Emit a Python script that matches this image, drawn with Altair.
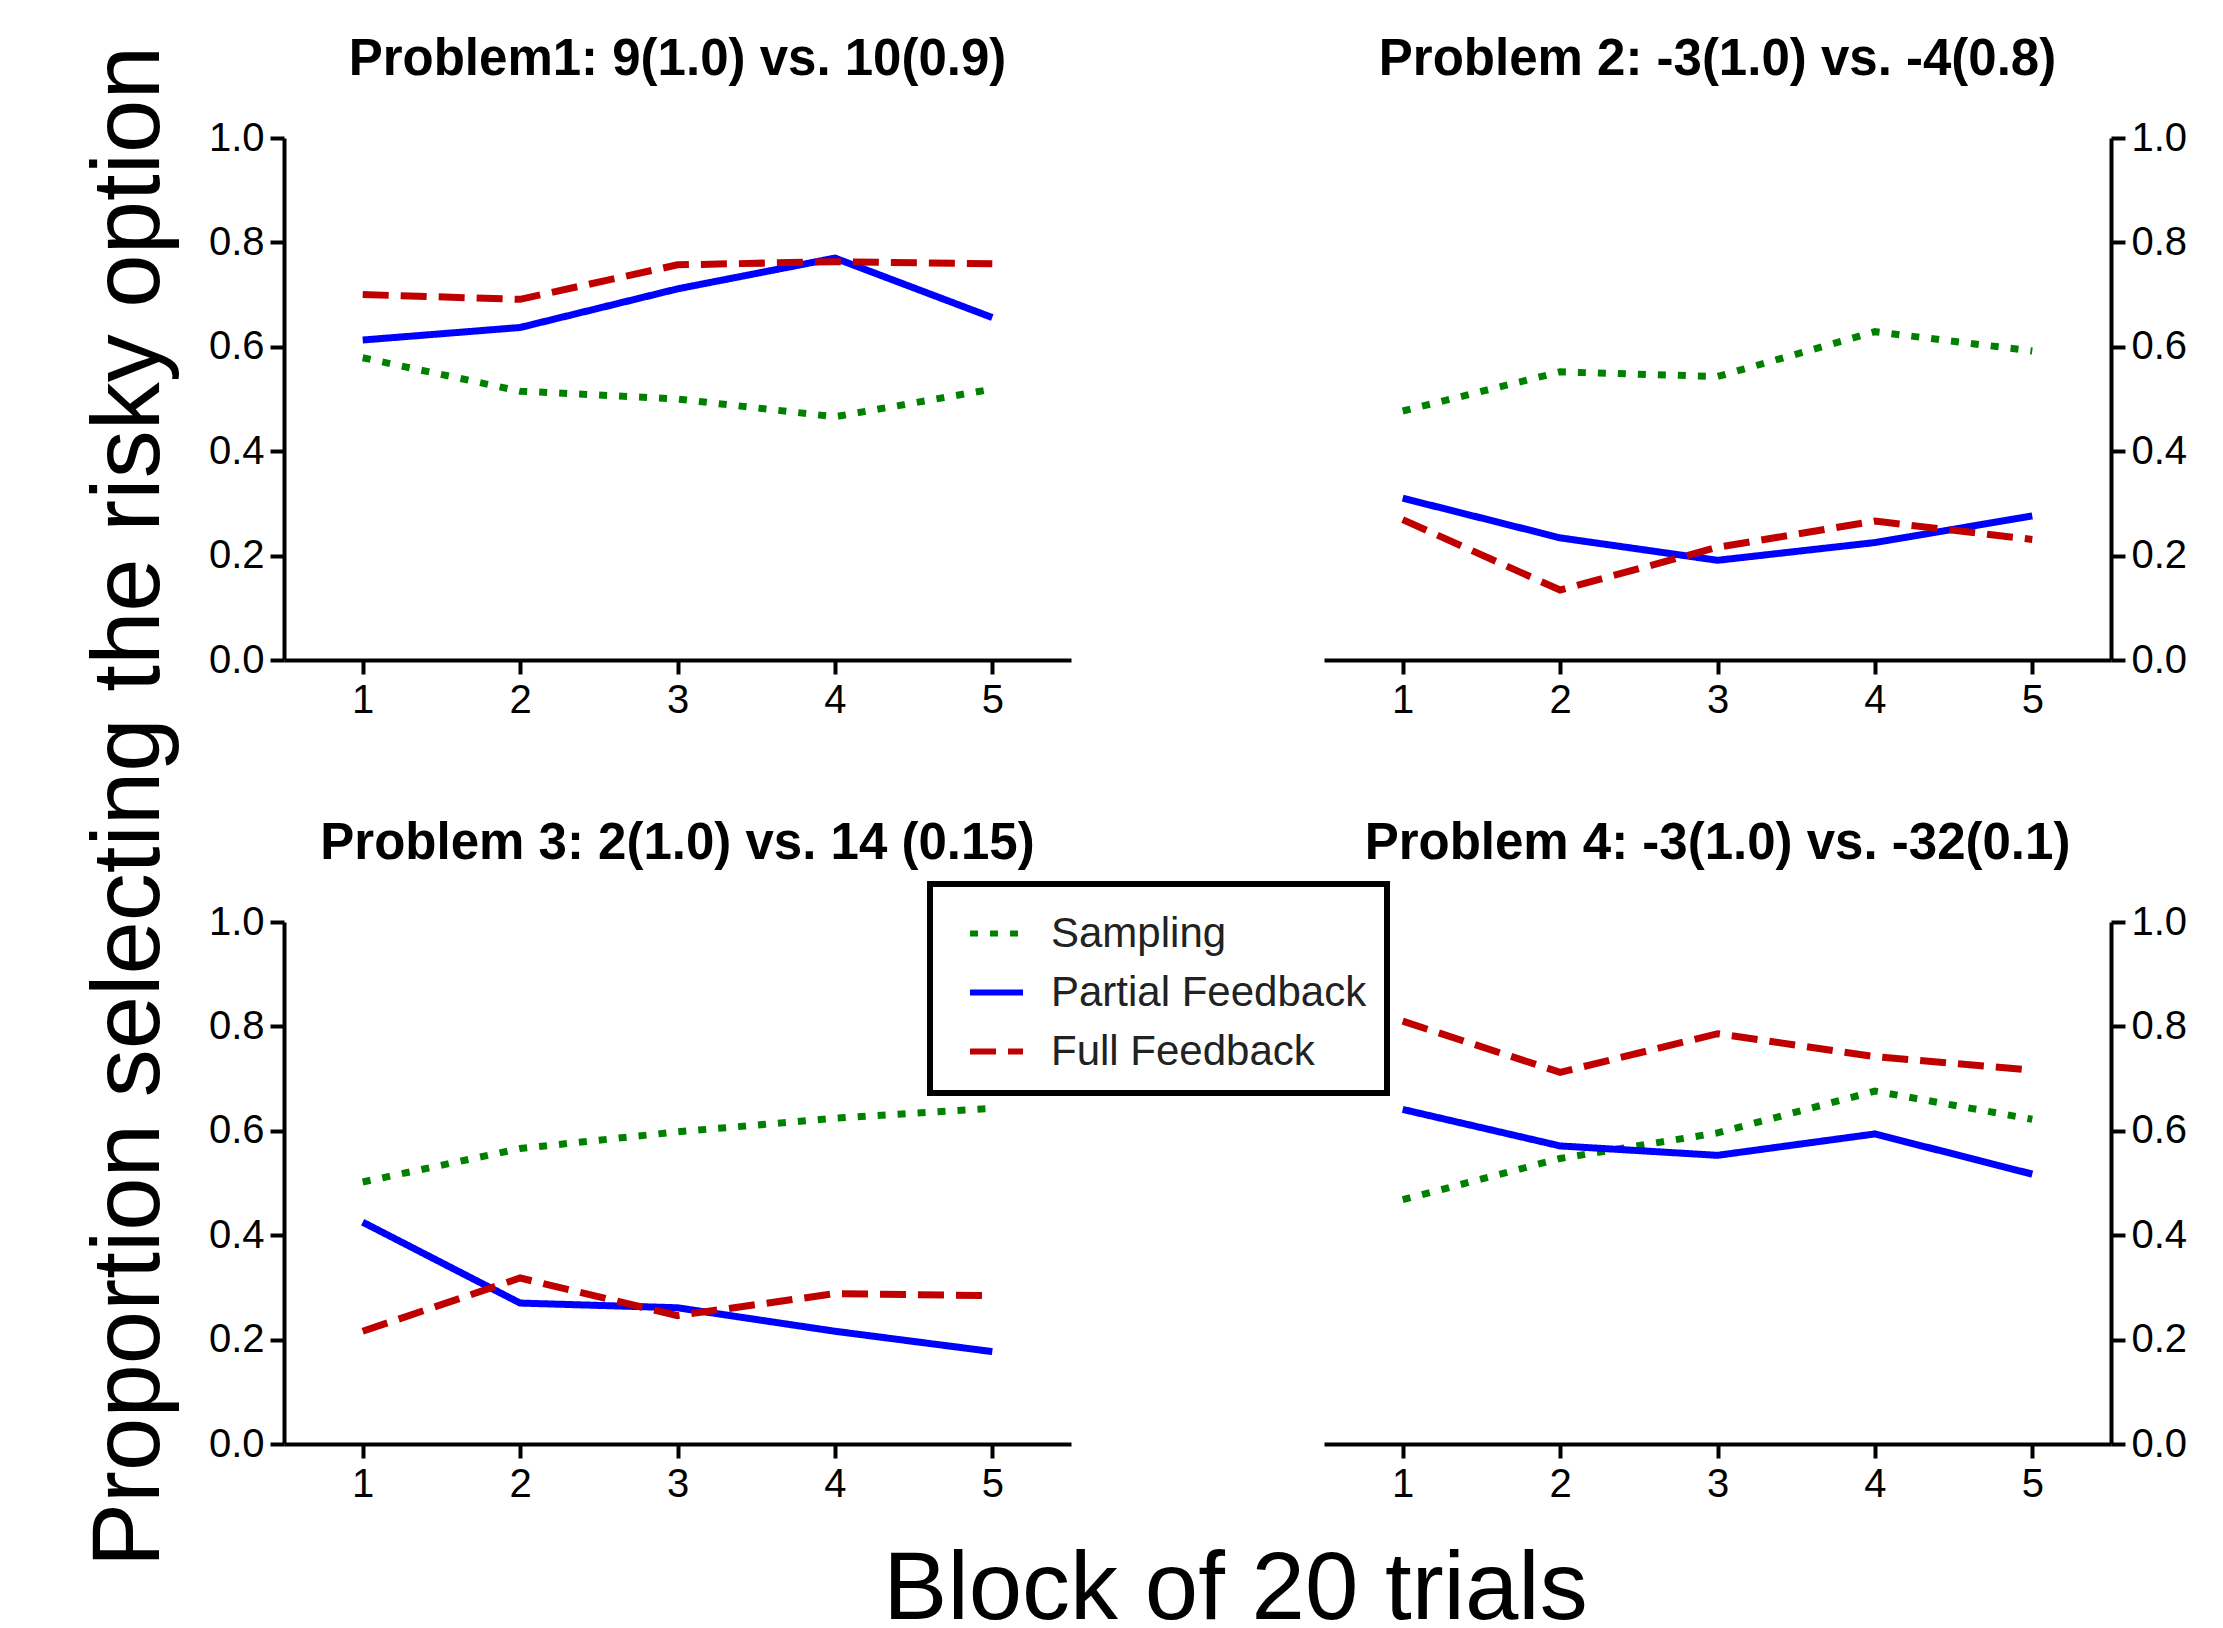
import altair as alt
import pandas as pd

blocks = [1, 2, 3, 4, 5]
conditions = ["Sampling", "Partial Feedback", "Full Feedback"]
colors = ["#008000", "#0000FF", "#C00000"]
dashes = [[8, 12], [1, 0], [26, 12]]
titles = [
    "Problem1:  9(1.0) vs. 10(0.9)",
    "Problem 2:  -3(1.0) vs. -4(0.8)",
    "Problem 3:  2(1.0) vs. 14 (0.15)",
    "Problem 4:  -3(1.0) vs. -32(0.1)",
]
y_ticks = [0.0, 0.2, 0.4, 0.6, 0.8, 1.0]

p1_sampling = [0.579, 0.515, 0.500, 0.466, 0.519]
p1_partial = [0.613, 0.637, 0.711, 0.770, 0.656]
p1_full = [0.700, 0.691, 0.757, 0.763, 0.759]

p2_sampling = [0.477, 0.552, 0.543, 0.629, 0.592]
p2_partial = [0.310, 0.234, 0.191, 0.225, 0.276]
p2_full = [0.269, 0.134, 0.216, 0.266, 0.231]

p3_sampling = [0.502, 0.566, 0.598, 0.624, 0.643]
p3_partial = [0.425, 0.270, 0.261, 0.216, 0.177]
p3_full = [0.216, 0.318, 0.246, 0.288, 0.284]

p4_sampling = [0.468, 0.547, 0.596, 0.676, 0.622]
p4_partial = [0.641, 0.571, 0.553, 0.594, 0.517]
p4_full = [0.810, 0.712, 0.786, 0.742, 0.716]

problems = [
    (p1_sampling, p1_partial, p1_full),
    (p2_sampling, p2_partial, p2_full),
    (p3_sampling, p3_partial, p3_full),
    (p4_sampling, p4_partial, p4_full),
]

Y_TITLE = "Proportion selecting the risky option"
X_TITLE = "Block of 20 trials"

W, H = 787, 522

legend = alt.Legend(
    title=None,
    orient="none",
    legendX=646,
    legendY=746,
)

title_offsets = [-80, -8, -8, -8]


def make_panel(idx):
    rows = []
    for cond, vals in zip(conditions, problems[idx]):
        for b, v in zip(blocks, vals):
            rows.append({"block": b, "value": v, "condition": cond,
                         "order": conditions.index(cond)})
    df = pd.DataFrame(rows)
    right = idx in (1, 3)

    if idx == 0:
        yaxis = alt.Axis(values=y_ticks, format=".1f", orient="left",
                         title=Y_TITLE, titleAngle=270, titleX=-126, titleY=668,
                         titleAlign="center", titleBaseline="alphabetic")
    else:
        yaxis = alt.Axis(values=y_ticks, format=".1f",
                         orient="right" if right else "left", title=None)
    if idx == 2:
        xaxis = alt.Axis(values=blocks, format="d", title=X_TITLE,
                         titleX=951, titleY=174, titleAlign="center",
                         titleBaseline="alphabetic")
    else:
        xaxis = alt.Axis(values=blocks, format="d", title=None)

    return alt.Chart(df).mark_line(strokeWidth=7, strokeCap="butt").encode(
        x=alt.X("block:Q", scale=alt.Scale(domain=[0.5, 5.5], nice=False, zero=False), axis=xaxis),
        y=alt.Y("value:Q", scale=alt.Scale(domain=[0, 1], nice=False), axis=yaxis),
        color=alt.Color("condition:N", scale=alt.Scale(domain=conditions, range=colors), legend=legend),
        strokeDash=alt.StrokeDash("condition:N", scale=alt.Scale(domain=conditions, range=dashes), legend=legend),
        order=alt.Order("order:Q"),
    ).properties(
        width=W, height=H,
        title=alt.TitleParams(titles[idx], font="Liberation Sans", fontSize=51,
                              fontWeight="bold", color="black", offset=title_offsets[idx],
                              anchor="middle", baseline="alphabetic"),
    )


panels = [make_panel(i) for i in range(4)]

chart = alt.ConcatChart(
    concat=panels,
    columns=2,
    spacing=alt.RowColnumber(row=262, column=253),
    bounds="flush",
).configure(
    padding={"left": 72, "top": 25, "right": 5, "bottom": 0},
    background="white",
).configure_view(
    stroke="transparent",
).configure_axis(
    domainColor="black", domainWidth=4,
    tickColor="black", tickWidth=4, tickSize=14,
    labelFont="Liberation Sans", labelFontSize=40, labelColor="black", labelPadding=6,
    grid=False,
    titleFont="Liberation Sans", titleFontSize=96, titleFontWeight="normal", titleColor="black",
).configure_legend(
    strokeColor="black", strokeWidth=6, fillColor="white", padding=20,
    labelFont="Liberation Sans", labelFontSize=42, labelColor="#222222", labelLimit=600,
    symbolType="stroke", symbolSize=2809, symbolStrokeWidth=6,
    rowPadding=8, labelOffset=25, symbolOffset=17, cornerRadius=0,
)

chart.save("out.html", embed_options={"renderer": "svg", "actions": False})
